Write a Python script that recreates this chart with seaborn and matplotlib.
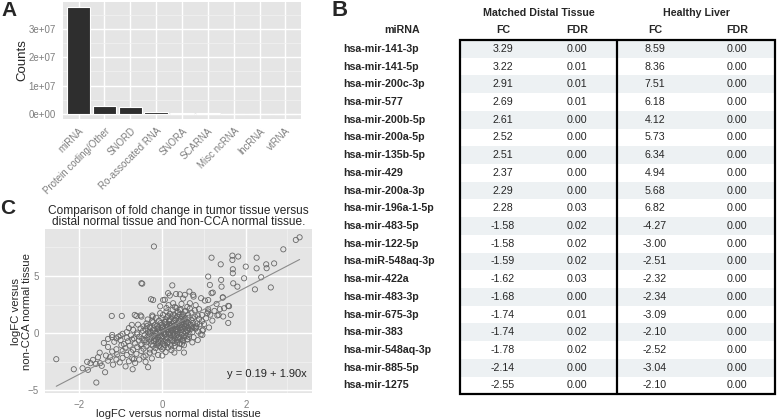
import matplotlib
matplotlib.use("Agg")
import matplotlib.pyplot as plt
import seaborn as sns
import numpy as np
from matplotlib.patches import Rectangle

# ---- data ----
# panel A: read counts per RNA class
rna_classes = ["miRNA", "Protein coding/Other", "SNORD", "Ro-assocated RNA", "SNORA",
               "SCARNA", "Misc ncRNA", "lncRNA", "vtRNA"]
rna_counts = [3.78e7, 2.75e6, 2.35e6, 5.0e5, 3.0e5, 1.2e5, 2.0e4, 1.5e4, 8.0e3]
count_ticks = [0, 1e7, 2e7, 3e7]
count_labels = ["0e+00", "1e+07", "2e+07", "3e+07"]

# panel B: table
mirnas = ["hsa-mir-141-3p", "hsa-mir-141-5p", "hsa-mir-200c-3p", "hsa-mir-577",
          "hsa-mir-200b-5p", "hsa-mir-200a-5p", "hsa-mir-135b-5p", "hsa-mir-429",
          "hsa-mir-200a-3p", "hsa-mir-196a-1-5p", "hsa-mir-483-5p", "hsa-mir-122-5p",
          "hsa-miR-548aq-3p", "hsa-mir-422a", "hsa-mir-483-3p", "hsa-mir-675-3p",
          "hsa-mir-383", "hsa-mir-548aq-3p", "hsa-mir-885-5p", "hsa-mir-1275"]
distal_fc = [3.29, 3.22, 2.91, 2.69, 2.61, 2.52, 2.51, 2.37, 2.29, 2.28,
             -1.58, -1.58, -1.59, -1.62, -1.68, -1.74, -1.74, -1.78, -2.14, -2.55]
distal_fdr = [0.00, 0.01, 0.01, 0.01, 0.00, 0.00, 0.00, 0.00, 0.00, 0.03,
              0.02, 0.02, 0.02, 0.03, 0.00, 0.01, 0.02, 0.02, 0.00, 0.00]
liver_fc = [8.59, 8.36, 7.51, 6.18, 4.12, 5.73, 6.34, 4.94, 5.68, 6.82,
            -4.27, -3.00, -2.51, -2.32, -2.34, -3.09, -2.10, -2.52, -3.04, -2.10]
liver_fdr = [0.00] * 20

# panel C: logFC vs distal normal (x) and vs non-CCA normal (y)
fc_pairs = [
    # sparse upper / right
    (-0.20, 7.58), (-0.50, 4.37), (-0.48, 4.33), (-0.27, 2.97), (-0.22, 2.90),
    (0.02, 2.90), (0.06, 2.92), (0.24, 4.18), (0.33, 3.43), (0.18, 3.29), (0.14, 3.50),
    (0.50, 3.03), (0.46, 2.56), (0.66, 2.62), (0.26, 2.62), (0.65, 3.64), (0.74, 3.35),
    (0.93, 3.06), (1.02, 2.85), (1.21, 3.55), (1.30, 2.56), (1.45, 3.14), (1.10, 2.10),
    (1.08, 1.75), (1.58, 2.39), (1.38, 2.10), (1.48, 2.18), (1.64, 1.60), (1.46, 1.46),
    (1.58, 0.90), (0.54, 1.89), (0.42, 2.04), (0.42, 3.40), (0.54, 3.35), (0.75, 3.20),
    (1.10, 2.90), (1.18, 3.50), (1.45, 3.11), (1.60, 2.36),
    (1.18, 6.60), (1.40, 6.02), (1.68, 6.78), (1.68, 6.40), (1.82, 6.70), (1.69, 5.59),
    (1.69, 5.24), (2.00, 5.82), (2.26, 6.60), (2.49, 6.02), (2.68, 6.10), (2.50, 5.68),
    (2.26, 5.67), (2.90, 7.33), (3.20, 8.15), (3.29, 8.38), (1.10, 4.95), (1.14, 4.22),
    (1.41, 4.66), (1.42, 4.07), (1.70, 4.36), (1.80, 4.07), (1.96, 4.80), (2.22, 3.83),
    (2.37, 4.89), (2.60, 4.00),
    (-0.05, 2.35), (0.10, 2.20), (0.15, 2.45), (0.30, 2.30), (0.60, 2.30), (0.80, 2.45),
    (0.88, 2.10), (1.25, 1.95), (1.32, 1.55),
    # right of cluster
    (0.95, 1.60), (1.00, 0.80), (1.05, 1.30), (1.12, 0.50), (0.98, 0.30), (1.20, 1.10),
    (0.92, -0.10), (0.85, -0.60), (1.10, 1.90), (0.96, 0.23), (0.96, -0.15), (0.60, -0.52),
    (0.52, -1.69), (1.15, 1.62), (1.35, 1.60), (0.80, 0.50), (0.75, 0.55),
    # dense cluster
    (0.02, 1.60), (0.10, 1.90), (0.18, 1.70), (0.25, 2.05), (0.30, 1.55), (0.38, 1.85),
    (0.44, 2.10), (0.50, 1.65), (0.56, 1.95), (0.62, 1.60), (0.70, 1.80), (0.78, 2.00),
    (0.85, 1.55), (-0.05, 1.75), (0.14, 1.50), (0.34, 2.20), (0.48, 1.45), (0.66, 2.15),
    (-0.35, 1.20), (-0.25, 1.05), (-0.15, 1.35), (-0.08, 1.10), (0.00, 1.30), (0.06, 1.00),
    (0.12, 1.40), (0.18, 1.15), (0.22, 1.45), (0.28, 1.05), (0.33, 1.30), (0.40, 1.10),
    (0.45, 1.40), (0.52, 1.20), (0.58, 1.00), (0.63, 1.35), (0.70, 1.15), (0.78, 1.45),
    (0.88, 1.25), (0.95, 1.05), (0.08, 1.22), (0.36, 1.48), (0.55, 1.32),
    (-0.45, 0.60), (-0.38, 0.85), (-0.30, 0.55), (-0.22, 0.95), (-0.18, 0.70), (-0.10, 0.52),
    (-0.04, 0.88), (0.02, 0.65), (0.08, 0.98), (0.13, 0.58), (0.17, 0.80), (0.21, 0.62),
    (0.26, 0.92), (0.30, 0.70), (0.35, 0.55), (0.39, 0.85), (0.43, 0.68), (0.48, 0.95),
    (0.53, 0.60), (0.57, 0.82), (0.62, 0.50), (0.68, 0.75), (0.74, 0.90), (0.82, 0.60),
    (0.90, 0.78), (-0.02, 0.72), (0.10, 0.75), (0.24, 0.50), (0.46, 0.52),
    (-0.85, 0.10), (-0.70, 0.30), (-0.60, 0.05), (-0.52, 0.42), (-0.46, 0.20), (-0.40, 0.35),
    (-0.34, 0.08), (-0.28, 0.45), (-0.22, 0.25), (-0.16, 0.05), (-0.12, 0.38), (-0.06, 0.18),
    (0.00, 0.42), (0.04, 0.02), (0.09, 0.30), (0.14, 0.12), (0.18, 0.45), (0.22, 0.22),
    (0.27, 0.04), (0.31, 0.36), (0.36, 0.15), (0.41, 0.48), (0.45, 0.28), (0.50, 0.06),
    (0.55, 0.40), (0.60, 0.20), (0.66, 0.33), (0.72, 0.10), (0.80, 0.40), (0.86, 0.15),
    (-0.08, 0.28), (0.07, 0.48), (0.20, 0.32), (0.33, 0.22), (0.48, 0.40), (0.62, 0.45),
    (-1.20, -0.15), (-1.05, -0.30), (-0.95, -0.05), (-0.85, -0.40), (-0.75, -0.20),
    (-0.68, -0.45), (-0.60, -0.10), (-0.55, -0.30), (-0.48, -0.48), (-0.42, -0.15),
    (-0.36, -0.35), (-0.30, -0.05), (-0.25, -0.42), (-0.20, -0.22), (-0.14, -0.02),
    (-0.10, -0.38), (-0.05, -0.18), (0.00, -0.45), (0.05, -0.12), (0.10, -0.30),
    (0.15, -0.05), (0.20, -0.40), (0.25, -0.20), (0.30, -0.48), (0.35, -0.10),
    (0.40, -0.32), (0.46, -0.15), (0.52, -0.40), (0.58, -0.22), (0.65, -0.05),
    (0.75, -0.35), (-0.02, -0.28), (0.12, -0.45), (0.28, -0.30), (0.44, -0.45), (-0.18, -0.48),
    (-1.15, -0.75), (-1.00, -0.60), (-0.92, -0.95), (-0.82, -0.70), (-0.72, -0.55),
    (-0.65, -0.88), (-0.56, -0.65), (-0.50, -0.95), (-0.44, -0.60), (-0.38, -0.80),
    (-0.32, -0.55), (-0.26, -0.98), (-0.20, -0.70), (-0.15, -0.58), (-0.09, -0.88),
    (-0.03, -0.65), (0.02, -0.92), (0.08, -0.58), (0.13, -0.78), (0.18, -0.98),
    (0.24, -0.62), (0.30, -0.85), (0.36, -0.60), (0.42, -0.92), (0.50, -0.70),
    (0.60, -0.55), (0.72, -0.80), (-0.10, -0.75), (0.05, -0.70),
    (-1.30, -1.20), (-1.10, -1.40), (-0.98, -1.05), (-0.88, -1.30), (-0.78, -1.10),
    (-0.70, -1.45), (-0.60, -1.20), (-0.52, -1.02), (-0.45, -1.35), (-0.38, -1.15),
    (-0.30, -1.42), (-0.22, -1.08), (-0.16, -1.30), (-0.08, -1.12), (0.00, -1.40),
    (0.06, -1.05), (0.14, -1.25), (0.22, -1.48), (0.30, -1.10), (0.40, -1.30),
    (0.52, -1.05), (-0.04, -1.22),
    (-1.50, -1.70), (-1.35, -1.95), (-1.20, -1.60), (-1.08, -1.85), (-0.95, -1.55),
    (-0.85, -1.90), (-0.75, -1.65), (-0.62, -1.80), (-0.50, -1.55), (-0.40, -1.95),
    (-0.30, -1.70), (-0.20, -1.60), (-0.10, -1.90), (0.00, -1.95), (0.08, -1.65), (0.29, -1.69),
    # core of the cluster, second pass
    (0.05, 0.15), (0.12, 0.55), (0.19, -0.15), (0.23, 0.85), (0.27, -0.65), (0.31, 1.15),
    (0.34, 0.38), (0.38, -0.42), (0.42, 0.05), (0.47, 0.72), (0.51, -0.25), (0.56, 1.05),
    (0.59, 0.28), (0.64, -0.32), (0.69, 0.62), (-0.03, 0.05), (-0.07, -0.55), (-0.12, 0.65),
    (-0.17, -0.25), (-0.21, 0.42), (-0.26, -0.72), (-0.29, 0.15), (-0.33, -0.18),
    (-0.37, 0.62), (-0.41, -0.62), (0.16, 1.05), (0.26, 1.62), (0.41, 1.62), (0.11, -0.85),
    (0.21, -1.15), (0.35, -0.78), (0.47, -0.95), (0.03, -1.25), (-0.13, -1.05), (0.57, 0.05),
    (0.71, 0.42), (0.83, 0.85), (0.27, 0.62), (0.09, -0.05), (0.44, 1.22), (0.38, 0.32),
    (0.15, 0.32), (-0.01, 0.52), (0.53, 0.82), (0.29, -0.12), (0.49, -0.60), (0.62, 0.92),
    (0.19, 0.05), (-0.09, 0.05), (0.73, 1.32),
    # lower-left tail
    (-2.54, -2.27), (-2.12, -3.15), (-1.91, -3.06), (-1.78, -3.20), (-1.72, -2.62),
    (-1.66, -2.33), (-1.80, -2.50), (-1.59, -2.68), (-1.58, -4.31), (-1.54, -2.10),
    (-1.49, -2.62), (-1.37, -3.41), (-1.45, -2.85), (-1.30, -2.40), (-1.25, -2.10),
    (-1.18, -2.75), (-1.10, -2.30), (-1.02, -2.55), (-0.95, -2.15), (-0.88, -2.90),
    (-0.80, -2.45), (-0.72, -2.20), (-0.71, -3.15), (-0.65, -2.60), (-0.55, -2.30),
    (-0.45, -2.05), (-0.34, -2.97), (-0.40, -2.50), (-0.25, -2.20), (-0.68, -2.27),
    # left, upper sparse
    (-1.21, 1.51), (-0.97, 1.51), (-0.66, 1.60), (-0.62, 1.50), (-0.52, 1.55),
    (-0.50, 1.45), (-0.24, 1.55), (-0.23, 1.45), (-0.73, 0.73), (-0.80, 0.45),
    (-0.58, 0.75), (-1.30, -0.50), (-1.20, -0.35), (-1.10, -0.45), (-1.00, -0.20),
    (-1.40, -0.85),
]
fc_distal = [p[0] for p in fc_pairs]
fc_noncca = [p[1] for p in fc_pairs]
fit_intercept, fit_slope = 0.19, 1.90

# ---- style ----
sns.set_style("darkgrid", {"axes.facecolor": "#E5E5E5", "grid.color": "white"})
plt.rcParams["font.family"] = ["Liberation Sans", "DejaVu Sans"]
tick_grey = "#7F7F7F"

fig = plt.figure(figsize=(7.78, 4.19), dpi=100)
W, H = 778.0, 419.0


def px_axes(left, top, right, bottom):
    return fig.add_axes([left / W, 1 - bottom / H, (right - left) / W, (bottom - top) / H])


# ---- panel A ----
axA = px_axes(63, 2, 301, 119)
sns.barplot(x=rna_classes, y=rna_counts, color="#2E2E2E", saturation=1,
            edgecolor="white", linewidth=0.8, width=0.9, ax=axA)
axA.set_xlim(-0.6, 8.6)
axA.set_ylim(-0.19e7, 3.97e7)
axA.set_yticks(count_ticks)
axA.set_yticklabels(count_labels)
axA.set_yticks([0.5e7, 1.5e7, 2.5e7, 3.5e7], minor=True)
axA.grid(which="minor", axis="y", color="#F2F2F2", linewidth=0.5)
axA.grid(which="major", color="white", linewidth=1.0)
axA.set_xticks(range(len(rna_classes)))
axA.set_xticklabels(rna_classes, rotation=45, ha="right", rotation_mode="anchor")
axA.tick_params(labelsize=7, labelcolor=tick_grey, length=3, color=tick_grey, width=0.6, pad=2)
axA.tick_params(which="minor", length=0)
axA.set_ylabel("Counts", fontsize=9.5, labelpad=0)
axA.set_xlabel("")
for s in axA.spines.values():
    s.set_visible(False)
fig.text(1 / W, 1 - 11 / H, "A", fontsize=15, fontweight="bold", va="center", ha="left")

# ---- panel C ----
axC = px_axes(45, 229.3, 311.7, 393.3)
sns.scatterplot(x=fc_distal, y=fc_noncca, marker="o", facecolors="none",
                edgecolor="#666666", s=14, linewidth=0.6, ax=axC)
xline = np.array([min(fc_distal), max(fc_distal)])
sns.lineplot(x=xline, y=fit_intercept + fit_slope * xline, color="#8C8C8C",
             linewidth=0.8, ax=axC)
axC.set_xlim(-2.81, 3.58)
axC.set_ylim(-5.25, 9.08)
axC.set_xticks([-2, 0, 2])
axC.set_yticks([-5, 0, 5])
axC.set_xticks([-1, 1, 3], minor=True)
axC.set_yticks([-2.5, 2.5, 7.5], minor=True)
axC.grid(which="minor", color="#F2F2F2", linewidth=0.5)
axC.grid(which="major", color="white", linewidth=1.0)
axC.tick_params(labelsize=7, labelcolor=tick_grey, length=3, color=tick_grey, width=0.6, pad=1.5)
axC.tick_params(which="minor", length=0)
axC.set_xlabel("logFC versus normal distal tissue", fontsize=8, labelpad=-0.5)
axC.set_ylabel("logFC versus\nnon-CCA normal tissue", fontsize=8.2, linespacing=1.05)
axC.yaxis.set_label_coords(-0.05, 0.5)
axC.set_title("Comparison of fold change in tumor tissue versus\n"
              "distal normal tissue and non-CCA normal tissue.",
              fontsize=8.6, pad=3, linespacing=0.95)
axC.text(3.45, -3.55, "y = 0.19 + 1.90x", ha="right", va="center", fontsize=8)
for s in axC.spines.values():
    s.set_visible(False)
fig.text(0 / W, 1 - 208 / H, "C", fontsize=15, fontweight="bold", va="center", ha="left")

# ---- panel B (table) ----
axB = fig.add_axes([0, 0, 1, 1], facecolor="none")
axB.set_xlim(0, W)
axB.set_ylim(H, 0)
axB.axis("off")

box_left, box_mid, box_right = 460, 617.5, 775.5
box_top, box_bottom = 40, 394.3
row_h = (box_bottom - box_top) / len(mirnas)
col_x = [503, 577, 655, 737]
fs = 7.7

for i, name in enumerate(mirnas):
    yc = box_top + row_h * (i + 0.5)
    if i % 2 == 0:
        axB.add_patch(Rectangle((box_left, box_top + row_h * i), box_right - box_left, row_h,
                                facecolor="#EDF1F3", edgecolor="none", zorder=1))
    axB.text(343, yc, name, ha="left", va="center", fontsize=fs, fontweight="bold", zorder=3)
    vals = [distal_fc[i], distal_fdr[i], liver_fc[i], liver_fdr[i]]
    for cx, v in zip(col_x, vals):
        axB.text(cx, yc, f"{v:.2f}", ha="center", va="center", fontsize=fs, zorder=3)

axB.add_patch(Rectangle((box_left, box_top), box_right - box_left, box_bottom - box_top,
                        facecolor="none", edgecolor="black", linewidth=1.6, zorder=4))
axB.plot([box_mid, box_mid], [box_top, box_bottom], color="black", linewidth=1.6, zorder=4)

axB.text(539, 13, "Matched Distal Tissue", ha="center", va="center", fontsize=fs, fontweight="bold")
axB.text(697, 13, "Healthy Liver", ha="center", va="center", fontsize=fs, fontweight="bold")
axB.text(402, 30, "miRNA", ha="center", va="center", fontsize=fs, fontweight="bold")
for cx, lab in zip(col_x, ["FC", "FDR", "FC", "FDR"]):
    axB.text(cx, 30, lab, ha="center", va="center", fontsize=fs, fontweight="bold")
axB.text(332, 10, "B", ha="left", va="center", fontsize=16, fontweight="bold")

fig.savefig("out.png", dpi=100)
